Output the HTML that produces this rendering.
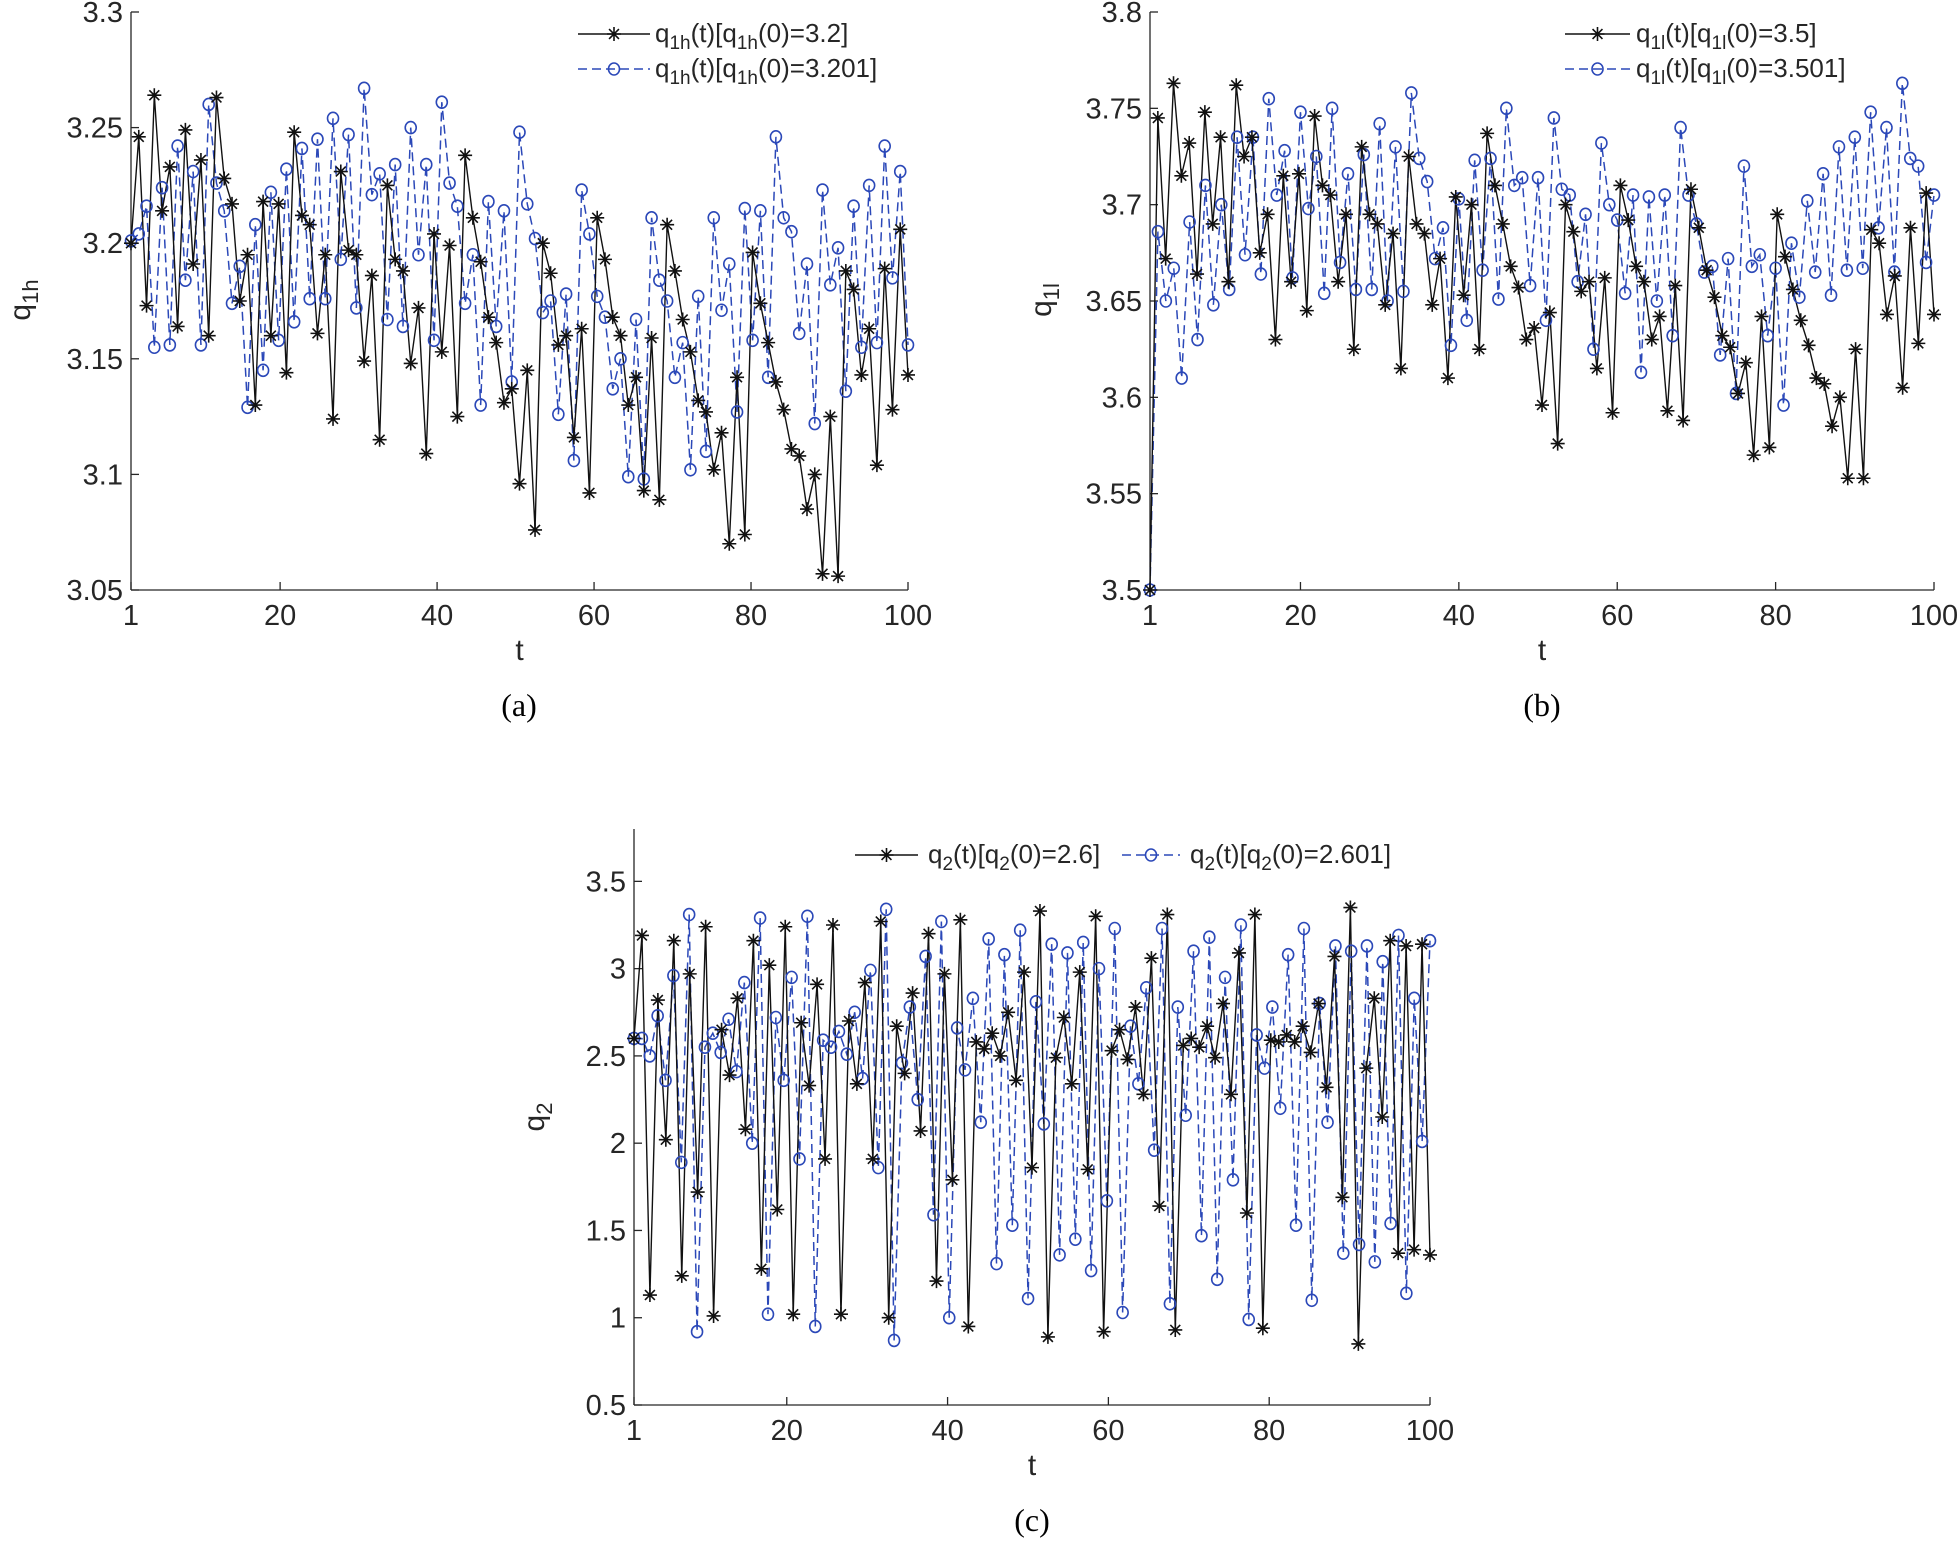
<!DOCTYPE html>
<html><head><meta charset="utf-8"><style>
html,body{margin:0;padding:0;background:#fff;}
svg{display:block;}
text{font-family:"Liberation Sans",sans-serif;fill:#262626;}
.cap{font-family:"Liberation Serif",serif;fill:#000;}
</style></head><body>
<svg id="s" width="1959" height="1544" xmlns="http://www.w3.org/2000/svg"></svg>
<script>
const S=document.getElementById('s');let h='';
const BL='#2b48b8';
function star(x,y){const r=7;let p='';for(let k=0;k<4;k++){const a=k*Math.PI/4;p+=`M${x-r*Math.cos(a)},${y-r*Math.sin(a)}L${x+r*Math.cos(a)},${y+r*Math.sin(a)}`;}return `<path d="${p}" stroke="#111" stroke-width="1.6" fill="none"/>`;}
function circ(x,y){return `<ellipse cx="${x}" cy="${y}" rx="5.5" ry="6" stroke="${BL}" stroke-width="1.6" fill="none"/>`;}
function panel(o){
 const {L,R,T,B,y0,y1,ticks,blk,blu}=o;
 const X=t=>L+(t-1)/99*(R-L), Y=v=>B-(v-y0)/(y1-y0)*(B-T);
 h+=`<line x1="${L}" y1="${T}" x2="${L}" y2="${B}" stroke="#262626" stroke-width="1.3"/><line x1="${L}" y1="${B}" x2="${R}" y2="${B}" stroke="#262626" stroke-width="1.3"/>`;
 for(const v of ticks){const y=Y(v);h+=`<line x1="${L}" y1="${y}" x2="${L+8}" y2="${y}" stroke="#262626" stroke-width="1.3"/><text x="${L-8}" y="${y+10}" font-size="29" text-anchor="end">${o.fmt?o.fmt(v):v}</text>`;}
 for(const t of [1,20,40,60,80,100]){const x=X(t);h+=`<line x1="${x}" y1="${B}" x2="${x}" y2="${B-8}" stroke="#262626" stroke-width="1.3"/><text x="${x}" y="${B+35}" font-size="29" text-anchor="middle">${t}</text>`;}
 h+=`<text x="${(L+R)/2}" y="${B+70}" font-size="30" text-anchor="middle">t</text>`;
 const pts=(a)=>a.map((v,i)=>[X(1+i*99/(a.length-1)),Y(v)]);
 const pb=pts(blu),pk=pts(blk);
 h+=`<polyline points="${pb.map(p=>p.join(',')).join(' ')}" fill="none" stroke="${BL}" stroke-width="1.5" stroke-dasharray="9,5"/>`;
 h+=`<polyline points="${pk.map(p=>p.join(',')).join(' ')}" fill="none" stroke="#111" stroke-width="1.4"/>`;
 pb.forEach(p=>h+=circ(p[0],p[1]));pk.forEach(p=>h+=star(p[0],p[1]));
}
const aK=[3.2,3.246,3.173,3.264,3.214,3.233,3.164,3.249,3.191,3.236,3.16,3.263,3.228,3.217,3.175,3.195,3.13,3.218,3.16,3.217,3.144,3.248,3.212,3.208,3.161,3.195,3.124,3.231,3.197,3.195,3.149,3.186,3.115,3.225,3.193,3.188,3.148,3.172,3.109,3.204,3.153,3.199,3.125,3.238,3.211,3.192,3.168,3.157,3.131,3.137,3.096,3.145,3.076,3.2,3.187,3.156,3.16,3.116,3.163,3.092,3.211,3.193,3.168,3.16,3.13,3.142,3.093,3.159,3.089,3.208,3.188,3.167,3.153,3.132,3.127,3.102,3.118,3.07,3.142,3.074,3.196,3.174,3.157,3.14,3.128,3.111,3.108,3.085,3.1,3.057,3.125,3.056,3.188,3.18,3.143,3.163,3.104,3.189,3.128,3.206,3.143];
const aB=[3.201,3.204,3.216,3.155,3.224,3.156,3.242,3.184,3.231,3.156,3.26,3.226,3.214,3.174,3.19,3.129,3.208,3.145,3.222,3.158,3.232,3.166,3.241,3.176,3.245,3.176,3.254,3.193,3.247,3.172,3.267,3.221,3.23,3.167,3.234,3.164,3.25,3.195,3.234,3.158,3.261,3.226,3.216,3.174,3.195,3.13,3.218,3.164,3.214,3.14,3.248,3.217,3.202,3.17,3.175,3.126,3.178,3.106,3.223,3.204,3.177,3.168,3.137,3.15,3.099,3.167,3.098,3.211,3.184,3.175,3.142,3.157,3.102,3.177,3.11,3.211,3.171,3.191,3.127,3.215,3.158,3.214,3.142,3.246,3.211,3.205,3.161,3.191,3.122,3.223,3.182,3.198,3.136,3.216,3.155,3.225,3.157,3.242,3.185,3.231,3.156];
const bK=[3.5,3.745,3.672,3.763,3.715,3.732,3.664,3.748,3.69,3.735,3.66,3.762,3.725,3.735,3.675,3.695,3.63,3.715,3.66,3.716,3.645,3.746,3.71,3.705,3.66,3.695,3.625,3.73,3.695,3.69,3.648,3.685,3.615,3.725,3.69,3.685,3.648,3.672,3.61,3.704,3.653,3.7,3.625,3.737,3.71,3.69,3.668,3.657,3.63,3.636,3.596,3.644,3.576,3.7,3.686,3.655,3.66,3.615,3.662,3.592,3.71,3.692,3.668,3.66,3.63,3.642,3.593,3.658,3.588,3.708,3.688,3.666,3.652,3.632,3.626,3.602,3.618,3.57,3.642,3.574,3.695,3.673,3.656,3.64,3.627,3.61,3.607,3.585,3.6,3.558,3.625,3.558,3.687,3.68,3.643,3.663,3.605,3.688,3.628,3.706,3.643];
const bB=[3.5,3.686,3.65,3.667,3.61,3.691,3.63,3.71,3.648,3.7,3.656,3.735,3.674,3.735,3.664,3.755,3.705,3.728,3.662,3.748,3.698,3.725,3.654,3.75,3.67,3.716,3.656,3.726,3.656,3.742,3.65,3.73,3.655,3.758,3.724,3.712,3.672,3.688,3.627,3.703,3.64,3.723,3.666,3.724,3.651,3.75,3.71,3.714,3.658,3.714,3.64,3.745,3.708,3.705,3.66,3.695,3.625,3.732,3.7,3.692,3.654,3.705,3.613,3.704,3.65,3.705,3.632,3.74,3.705,3.69,3.665,3.668,3.622,3.672,3.602,3.72,3.668,3.674,3.632,3.667,3.596,3.68,3.652,3.702,3.665,3.716,3.653,3.73,3.666,3.735,3.667,3.748,3.688,3.74,3.665,3.763,3.724,3.72,3.67,3.705];
const cK=[2.6,3.19,1.13,2.82,2.02,3.16,1.24,2.97,1.72,3.24,1.01,2.65,2.39,2.83,2.08,3.16,1.28,3.02,1.62,3.24,1.02,2.69,2.33,2.91,1.91,3.25,1.02,2.7,2.34,2.92,1.91,3.27,1.0,2.67,2.4,2.86,2.07,3.2,1.21,2.97,1.79,3.28,0.95,2.58,2.54,2.63,2.5,2.75,2.36,2.98,1.86,3.33,0.89,2.49,2.72,2.34,2.98,1.85,3.3,0.92,2.53,2.65,2.48,2.78,2.28,3.06,1.64,3.31,0.93,2.56,2.6,2.55,2.67,2.49,2.8,2.28,3.09,1.6,3.31,0.94,2.59,2.58,2.62,2.58,2.67,2.52,2.8,2.32,3.07,1.69,3.35,0.85,2.43,2.83,2.15,3.16,1.37,3.13,1.39,3.14,1.36];
const cB=[2.6,2.6,2.5,2.73,2.36,2.96,1.89,3.31,0.92,2.55,2.63,2.52,2.71,2.41,2.92,2.0,3.29,1.02,2.72,2.36,2.95,1.91,3.3,0.95,2.59,2.55,2.64,2.51,2.75,2.37,2.99,1.86,3.34,0.87,2.46,2.78,2.25,3.07,1.59,3.27,1.0,2.66,2.42,2.83,2.12,3.17,1.31,3.08,1.53,3.22,1.11,2.81,2.11,3.14,1.36,3.09,1.45,3.15,1.27,3.0,1.67,3.23,1.03,2.67,2.34,2.89,1.96,3.23,1.08,2.78,2.16,3.1,1.47,3.18,1.22,2.95,1.79,3.25,0.99,2.62,2.43,2.78,2.2,3.08,1.53,3.23,1.1,2.8,2.12,3.13,1.37,3.1,1.42,3.13,1.32,3.04,1.54,3.19,1.14,2.83,2.01,3.16];
const f2=v=>(Math.round(v*100)/100).toString();
panel({L:131,R:908,T:12,B:590,y0:3.05,y1:3.3,ticks:[3.05,3.1,3.15,3.2,3.25,3.3],fmt:f2,blk:aK,blu:aB});
panel({L:1150,R:1934,T:12,B:590,y0:3.5,y1:3.8,ticks:[3.5,3.55,3.6,3.65,3.7,3.75,3.8],fmt:f2,blk:bK,blu:bB});
panel({L:634,R:1430,T:829,B:1405,y0:0.5,y1:3.8,ticks:[0.5,1,1.5,2,2.5,3,3.5],fmt:f2,blk:cK,blu:cB});
h+=`<text transform="translate(30,300) rotate(-90)" font-size="30" text-anchor="middle">q<tspan font-size="22" dy="8">1h</tspan></text>`;
h+=`<text transform="translate(1051,300) rotate(-90)" font-size="30" text-anchor="middle">q<tspan font-size="22" dy="8">1l</tspan></text>`;
h+=`<text transform="translate(544,1117) rotate(-90)" font-size="30" text-anchor="middle">q<tspan font-size="22" dy="8">2</tspan></text>`;
function leg(x1,x2,y,blue,tx,sub,init){
 const m=(x1+x2)/2;
 if(blue){h+=`<line x1="${x1}" y1="${y}" x2="${x2}" y2="${y}" stroke="${BL}" stroke-width="1.5" stroke-dasharray="9,5"/>`+circ(m,y);}
 else{h+=`<line x1="${x1}" y1="${y}" x2="${x2}" y2="${y}" stroke="#111" stroke-width="1.4"/>`+star(m,y);}
 h+=`<text x="${tx}" y="${y+8}" font-size="26">q<tspan font-size="19" dy="7">${sub}</tspan><tspan dy="-7">(t)[q</tspan><tspan font-size="19" dy="7">${sub}</tspan><tspan dy="-7">(0)=${init}]</tspan></text>`;
}
leg(578,650,34,false,655,'1h','3.2');
leg(578,650,69,true,655,'1h','3.201');
leg(1565,1630,34,false,1636,'1l','3.5');
leg(1565,1630,69,true,1636,'1l','3.501');
leg(855,918,855,false,928,'2','2.6');
leg(1122,1180,855,true,1190,'2','2.601');
h+=`<text class="cap" x="519" y="716" font-size="32" text-anchor="middle">(a)</text>`;
h+=`<text class="cap" x="1542" y="716" font-size="32" text-anchor="middle">(b)</text>`;
h+=`<text class="cap" x="1032" y="1531" font-size="32" text-anchor="middle">(c)</text>`;
S.innerHTML=h;
</script>
</body></html>
